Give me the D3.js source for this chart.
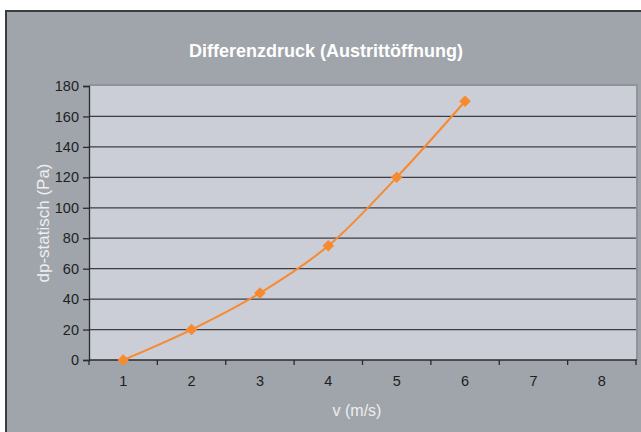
<!DOCTYPE html>
<html>
<head>
<meta charset="utf-8">
<script src="https://cdn.jsdelivr.net/npm/d3@7"></script>
<style>
  body { margin: 0; background: #fff; }
  svg { display: block; font-family: "Liberation Sans", Arial, sans-serif; }
</style>
</head>
<body>
<div id="chart"></div>
<script>
// chart data
const categories = [1, 2, 3, 4, 5, 6, 7, 8];
const speeds = [1, 2, 3, 4, 5, 6];
const pressures = [0, 20, 44, 75, 120, 170];
const yTicks = [0, 20, 40, 60, 80, 100, 120, 140, 160, 180];

const width = 641, height = 432;
const plot = { left: 89, top: 86, right: 636, bottom: 360 };

const svg = d3.select('#chart').append('svg')
  .attr('width', width)
  .attr('height', height);

// outer chart background with frame on left/top
svg.append('rect')
  .attr('x', 5).attr('y', 10)
  .attr('width', width).attr('height', height)
  .attr('fill', '#a0a5ab');
svg.append('path')
  .attr('d', `M6,${height} V11 H${width}`)
  .attr('fill', 'none')
  .attr('stroke', '#3a3c40')
  .attr('stroke-width', 2);

// scales
const x = d3.scaleBand()
  .domain(categories)
  .range([plot.left, plot.right])
  .paddingInner(0).paddingOuter(0);
const y = d3.scaleLinear()
  .domain([0, 180])
  .range([plot.bottom, plot.top]);

// plot area
svg.append('rect')
  .attr('x', plot.left).attr('y', plot.top)
  .attr('width', plot.right - plot.left)
  .attr('height', plot.bottom - plot.top)
  .attr('fill', '#cbced6');
svg.append('path')
  .attr('d', `M${plot.left},${plot.top - 1} H${plot.right + 1} V${plot.bottom}`)
  .attr('fill', 'none')
  .attr('stroke', '#8f949a')
  .attr('stroke-width', 2);

// gridlines
svg.append('g')
  .selectAll('line')
  .data(yTicks.filter(d => d > 0 && d < 180))
  .join('line')
  .attr('x1', plot.left).attr('x2', plot.right)
  .attr('y1', d => y(d)).attr('y2', d => y(d))
  .attr('stroke', '#3c3e42')
  .attr('stroke-width', 1.3);

// y axis
const yAxis = svg.append('g')
  .attr('transform', `translate(${plot.left},0)`)
  .call(d3.axisLeft(y).tickValues(yTicks).tickSize(6).tickPadding(4));
yAxis.select('.domain').attr('stroke', '#2a2b2e').attr('stroke-width', 1.3);
yAxis.selectAll('.tick line').attr('stroke', '#2a2b2e').attr('stroke-width', 1.3);
yAxis.selectAll('.tick text')
  .attr('fill', '#1e1e1e')
  .style('font-size', '14.5px')
  .style('font-family', '"Liberation Sans", Arial, sans-serif');

// x axis: ticks between categories
const xAxis = svg.append('g')
  .attr('transform', `translate(0,${plot.bottom})`);
xAxis.append('line')
  .attr('x1', plot.left).attr('x2', plot.right + 1)
  .attr('stroke', '#2a2b2e').attr('stroke-width', 1.5);
xAxis.selectAll('.tk')
  .data(categories.concat([null]))
  .join('line')
  .attr('class', 'tk')
  .attr('x1', (d, i) => plot.left + i * x.bandwidth())
  .attr('x2', (d, i) => plot.left + i * x.bandwidth())
  .attr('y1', 0).attr('y2', 5)
  .attr('stroke', '#2a2b2e').attr('stroke-width', 1.3);
xAxis.selectAll('.lbl')
  .data(categories)
  .join('text')
  .attr('class', 'lbl')
  .attr('x', d => x(d) + x.bandwidth() / 2)
  .attr('y', 26)
  .attr('text-anchor', 'middle')
  .attr('fill', '#1e1e1e')
  .style('font-size', '14.5px')
  .text(d => d);

// line series
const points = speeds.map((s, i) => ({ v: s, p: pressures[i] }));
const cx = d => x(d.v) + x.bandwidth() / 2;

svg.append('path')
  .datum(points)
  .attr('fill', 'none')
  .attr('stroke', '#f7892f')
  .attr('stroke-width', 2)
  .attr('d', d3.line().x(cx).y(d => y(d.p)).curve(d3.curveCatmullRom.alpha(0.5)));

svg.append('g')
  .selectAll('path')
  .data(points)
  .join('path')
  .attr('transform', d => `translate(${cx(d)},${y(d.p)})`)
  .attr('d', d3.symbol(d3.symbolDiamond2, 85))
  .attr('fill', '#f7892f');

// titles
svg.append('text')
  .attr('x', 326).attr('y', 57)
  .attr('text-anchor', 'middle')
  .attr('fill', '#ffffff')
  .style('font-size', '18px')
  .style('font-weight', 'bold')
  .text('Differenzdruck (Austrittöffnung)');

svg.append('text')
  .attr('transform', `translate(49,${(plot.top + plot.bottom) / 2}) rotate(-90)`)
  .attr('text-anchor', 'middle')
  .attr('fill', '#eeeeee')
  .style('font-size', '17px')
  .text('dp-statisch (Pa)');

svg.append('text')
  .attr('x', 357).attr('y', 416)
  .attr('text-anchor', 'middle')
  .attr('fill', '#eeeeee')
  .style('font-size', '16px')
  .text('v (m/s)');
</script>
</body>
</html>
